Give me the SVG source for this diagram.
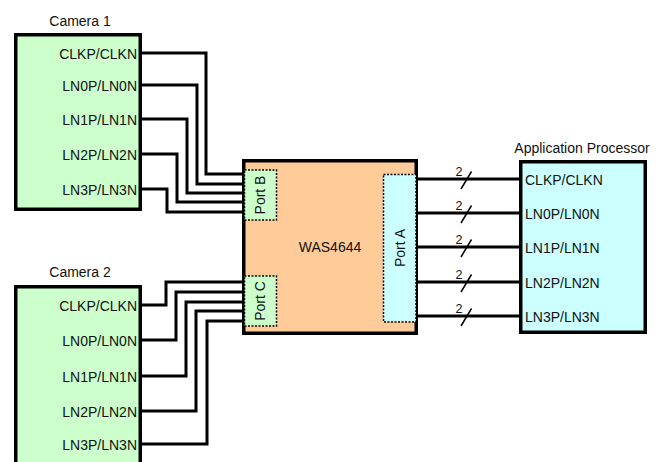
<svg xmlns="http://www.w3.org/2000/svg" width="666" height="462" viewBox="0 0 666 462">
<style>
text{font-family:"Liberation Sans",Arial,sans-serif;font-size:14px;fill:#111}
.box{stroke:#000;stroke-width:3.5}
.cam{fill:#ccffcc}
.port{stroke:#000;stroke-width:1.5;stroke-dasharray:2,1.5}
.w{fill:none;stroke:#000;stroke-width:3}
.s{fill:none;stroke:#000;stroke-width:1.5}
.r{text-anchor:end}
.m{text-anchor:middle}
.n{font-size:12.5px;text-anchor:middle}
</style>
<rect width="666" height="462" fill="#fff"/>
<g id="connectors">
<path class="w" d="M142,53H206V174H242M142,85H197V184H242M142,119H187V193H242M142,154H177V202H242M142,189H167V212H242"/>
<path class="w" d="M142,305H166V282H242M142,340H176V292H242M142,376H186V302H242M142,411H196V311H242M142,444H207V321H242"/>
<path class="w" d="M418,179H519M418,213H519M418,247H519M418,282H519M418,316H519"/>
<path class="s" d="M461,189L471.5,171.5M461,223L471.5,205.5M461,257L471.5,239.5M461,292L471.5,274.5M461,326L471.5,308.5"/>
<text class="n" x="459" y="176">2</text>
<text class="n" x="459" y="210">2</text>
<text class="n" x="459" y="244">2</text>
<text class="n" x="459" y="279">2</text>
<text class="n" x="459" y="313">2</text>
</g>
<g id="camera1">
<rect class="box cam" x="15.75" y="34.75" width="124.5" height="174.5"/>
<text class="m" x="80" y="26">Camera 1</text>
<text class="r" x="137" y="59">CLKP/CLKN</text>
<text class="r" x="137" y="91">LN0P/LN0N</text>
<text class="r" x="137" y="125">LN1P/LN1N</text>
<text class="r" x="137" y="160">LN2P/LN2N</text>
<text class="r" x="137" y="195">LN3P/LN3N</text>
</g>
<g id="camera2">
<rect class="box cam" x="15.75" y="286.75" width="124.5" height="180"/>
<text class="m" x="80" y="277">Camera 2</text>
<text class="r" x="137" y="311">CLKP/CLKN</text>
<text class="r" x="137" y="346">LN0P/LN0N</text>
<text class="r" x="137" y="382">LN1P/LN1N</text>
<text class="r" x="137" y="417">LN2P/LN2N</text>
<text class="r" x="137" y="450">LN3P/LN3N</text>
</g>
<g id="was4644">
<rect class="box" x="243.75" y="160.75" width="172.5" height="172.5" fill="#ffcc99"/>
<text class="m" x="330" y="252">WAS4644</text>
</g>
<g id="portB">
<rect class="port" x="244.5" y="170" width="32" height="50" fill="#ccffcc"/>
<text class="m" transform="translate(265,195) rotate(-90)">Port B</text>
</g>
<g id="portC">
<rect class="port" x="244.5" y="276" width="32" height="50" fill="#ccffcc"/>
<text class="m" transform="translate(265,301) rotate(-90)">Port C</text>
</g>
<g id="portA">
<rect class="port" x="383.5" y="174.5" width="32.5" height="147.5" fill="#ccffff"/>
<text class="m" transform="translate(404.5,248) rotate(-90)">Port A</text>
</g>
<g id="ap">
<rect class="box" x="520.75" y="161.75" width="124.5" height="170.5" fill="#ccffff"/>
<text class="m" x="582" y="153">Application Processor</text>
<text x="525" y="185">CLKP/CLKN</text>
<text x="525" y="219">LN0P/LN0N</text>
<text x="525" y="253">LN1P/LN1N</text>
<text x="525" y="288">LN2P/LN2N</text>
<text x="525" y="322">LN3P/LN3N</text>
</g>
</svg>
